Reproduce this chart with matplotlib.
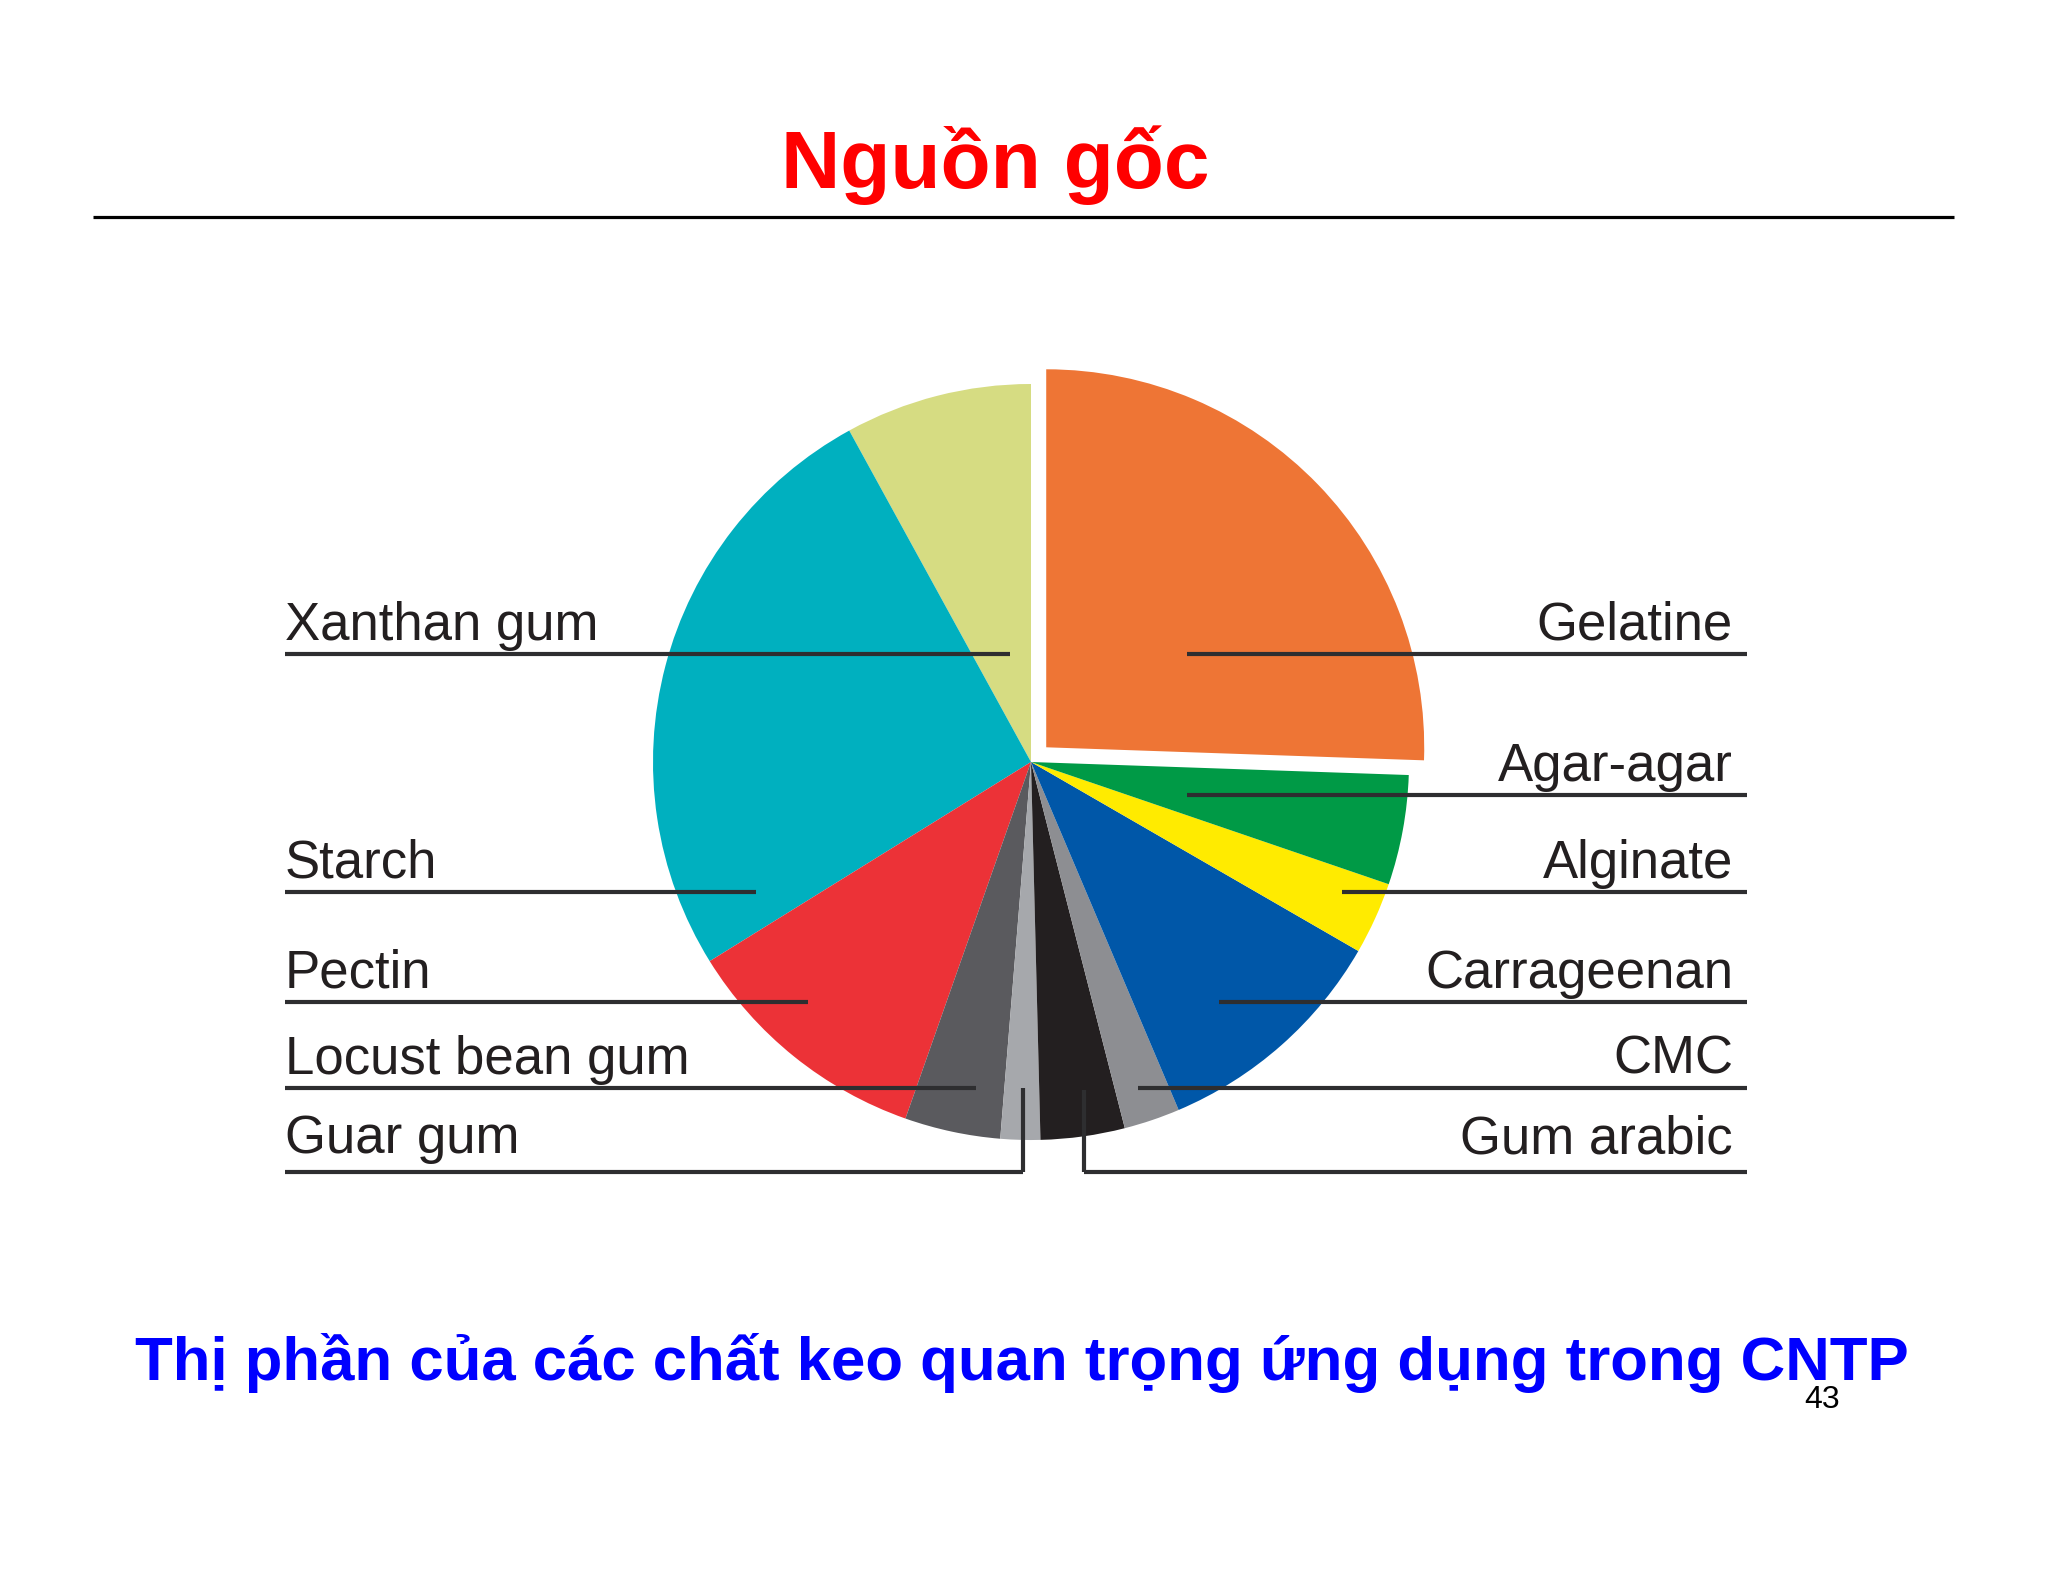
import matplotlib
matplotlib.use("Agg")
import matplotlib.pyplot as plt

# ---------------- data ----------------
categories = ["Xanthan gum", "Starch", "Pectin", "Locust bean gum", "Guar gum",
              "Gum arabic", "CMC", "Carrageenan", "Alginate", "Agar-agar", "Gelatine"]
shares = [8.0, 25.9, 10.8, 4.1, 1.7, 3.6, 2.4, 10.3, 3.1, 4.7, 25.6]
colors = ["#D6DC82", "#00B0BF", "#EC3237", "#5A5A5E", "#A6A8AC",
          "#231F20", "#8D8E92", "#0057A8", "#FFEB00", "#009A46", "#EE7535"]
explode_frac = [0, 0, 0, 0, 0, 0, 0, 0, 0, 0, 0.056]

title = "Nguồn gốc"
subtitle = "Thị phần của các chất keo quan trọng ứng dụng trong CNTP"
page_no = "43"

# label layout (pixel coordinates, y from top): side, line y, line inner end x
label_side = ["L", "L", "L", "L", "L", "R", "R", "R", "R", "R", "R"]
label_line_y = [654, 892, 1002, 1088, 1172, 1172, 1088, 1002, 892, 795, 654]
label_inner_x = [1010, 756, 808, 976, 1023, 1084, 1138, 1219, 1342, 1187, 1187]
label_vert_top = [None, None, None, None, 1088, 1090, None, None, None, None, None]

W, H = 2048, 1582
fig = plt.figure(figsize=(W / 100, H / 100), dpi=100)
ax = fig.add_axes([0, 0, 1, 1])

def Y(y):
    return H - y

cx, cy, R = 1031, 762, 378
# matplotlib's explode offset is in data units, so scale the fraction by the radius
ax.pie(shares, colors=colors, explode=[e * R for e in explode_frac], startangle=90,
       counterclock=True, center=(cx, Y(cy)), radius=R, wedgeprops=dict(linewidth=0))

ax.set_xlim(0, W)
ax.set_ylim(0, H)
ax.set_aspect('equal')
ax.axis('off')

lab_font = dict(family=["Liberation Sans", "DejaVu Sans"], fontsize=38, color="#231F20")
line_col = "#2E2E30"
LX_L, LX_R_TEXT, LX_R_LINE = 285, 1733, 1747
for name, side, ly, ix, vt in zip(categories, label_side, label_line_y, label_inner_x, label_vert_top):
    off = 19 if vt is not None else 14
    if side == "L":
        ax.plot([LX_L, ix], [Y(ly), Y(ly)], color=line_col, lw=3, solid_capstyle='butt', zorder=5)
        ax.text(LX_L, Y(ly - off), name, ha='left', va='baseline', **lab_font)
    else:
        ax.plot([ix, LX_R_LINE], [Y(ly), Y(ly)], color=line_col, lw=3, solid_capstyle='butt', zorder=5)
        ax.text(LX_R_TEXT, Y(ly - off), name, ha='right', va='baseline', **lab_font)
    if vt is not None:
        ax.plot([ix, ix], [Y(ly), Y(vt)], color=line_col, lw=3, solid_capstyle='butt', zorder=5)

# title and rule
ax.text(995, Y(188), title, ha='center', va='baseline', color='#FF0000',
        fontsize=59, fontweight='bold', family=["Liberation Sans", "DejaVu Sans"])
ax.plot([93, 1954], [Y(217), Y(217)], color='black', lw=2.3, solid_capstyle='butt')

# subtitle
ax.text(1022, Y(1380), subtitle, ha='center', va='baseline', color='#0000FF',
        fontsize=44.5, fontweight='bold', family=["Liberation Sans", "DejaVu Sans"])
ax.text(1822, Y(1408), page_no, ha='center', va='baseline', color='black',
        fontsize=23, family=["Liberation Sans", "DejaVu Sans"])

fig.savefig("out.png", dpi=100, facecolor='white')
